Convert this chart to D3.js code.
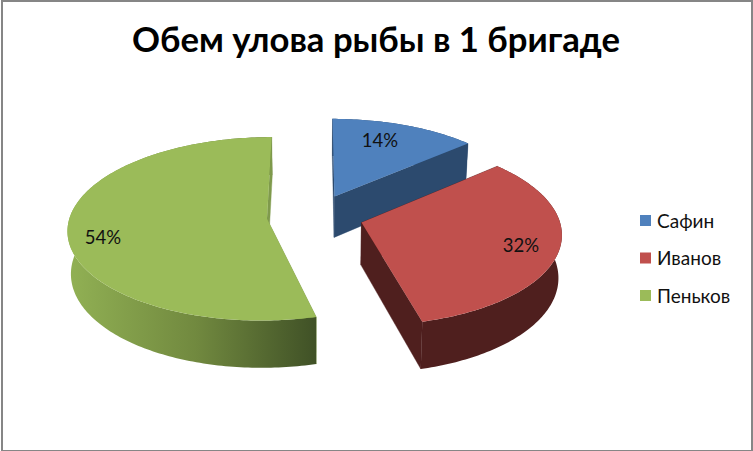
<!DOCTYPE html>
<html><head><meta charset="utf-8">
<script src="https://cdn.jsdelivr.net/npm/d3@7/dist/d3.min.js"></script>
<style>html,body{margin:0;padding:0;background:#fff}svg{display:block}</style>
</head><body><svg id="c" width="753" height="451"></svg>
<script>
const titleText = "Обем улова рыбы в 1 бригаде";
const categories = ["Сафин", "Иванов", "Пеньков"];
const values = [13.51, 32.49, 54];
const topColors = ["#4f81bd", "#c0504d", "#9bbb59"];
const sideColors = ["#2c4a6e", "#4f1f1e", "#7f9a4c"];

const font = "Lato, Carlito, 'Open Sans', sans-serif";
const svg = d3.select("#c");
const W = 753, H = 451;
svg.append("rect").attr("x",2).attr("y",1).attr("width",750).attr("height",450).attr("fill","#fff").attr("stroke","#868686").attr("stroke-width",2);

const defs = svg.append("defs");
const g1 = defs.append("linearGradient").attr("id","greenRim").attr("gradientUnits","userSpaceOnUse")
  .attr("x1",74).attr("x2",318).attr("y1",0).attr("y2",0);
g1.append("stop").attr("offset",0).attr("stop-color","#90af53");
g1.append("stop").attr("offset",.5).attr("stop-color","#71893f");
g1.append("stop").attr("offset",1).attr("stop-color","#3f5026");

// perspective projection of the pie plane
const cx = 315, cy = 216, A = 197, B = 90, k = 0.109, depth = 42, taper = 0.014, explode = 0.245;
function proj(X, Y, bottom) {
  const w = 1 + k * Y;
  let sx = A * X / w, sy = -B * Y / w;
  if (bottom) { sy += depth / w; sx *= (1 - taper); }
  return [cx + sx, cy + sy];
}
const pie = d3.pie().sort(null)(values);
const line = d3.line();
const slices = pie.map((d, i) => {
  const mid = (d.startAngle + d.endAngle) / 2;
  const ox = explode * Math.sin(mid), oy = explode * Math.cos(mid);
  const angles = d3.range(d.startAngle, d.endAngle, Math.PI / 180).concat([d.endAngle]);
  const rim = angles.map(a => [ox + Math.sin(a), oy + Math.cos(a), a]);
  return { i, ox, oy, mid, rim, d };
});

function drawSlice(s) {
  const g = svg.append("g");
  const apexT = proj(s.ox, s.oy, false), apexB = proj(s.ox, s.oy, true);
  const first = s.rim[0], last = s.rim[s.rim.length - 1];
  const face = (p, col) => g.append("path").attr("fill", col).attr("stroke", col).attr("stroke-width", .4)
    .attr("d", line([apexT, proj(p[0], p[1], false), proj(p[0], p[1], true), apexB]) + "Z");
  face(first, sideColors[s.i]);
  // outer wall
  const wall = s.rim.map(p => proj(p[0], p[1], false)).concat(s.rim.slice().reverse().map(p => proj(p[0], p[1], true)));
  g.append("path").attr("d", line(wall) + "Z")
    .attr("fill", s.i === 2 ? "url(#greenRim)" : sideColors[s.i]);
  face(last, sideColors[s.i]);
  // top
  const top = [apexT].concat(s.rim.map(p => proj(p[0], p[1], false)));
  g.append("path").attr("d", line(top) + "Z").attr("fill", topColors[s.i]);
}
[0, 2, 1].forEach(i => drawSlice(slices[i]));

// percent labels
const labelPos = [[380, 141], [521, 246], [103, 238]];
const total = d3.sum(values);
categories.forEach((c, i) => {
  svg.append("text").attr("x", labelPos[i][0]).attr("y", labelPos[i][1]).attr("dy", ".35em")
    .attr("text-anchor", "middle").attr("font-family", font).attr("font-size", 18.5).attr("fill", "#111")
    .text(d3.format(".0%")(values[i] / total));
});

// title
svg.append("text").attr("x", 376).attr("y", 52).attr("text-anchor", "middle")
  .attr("font-family", font).attr("font-weight", 700).attr("font-size", 34.7).attr("fill", "#000").text(titleText);

// legend
const legY = d3.scalePoint().domain(categories).range([221, 296]);
categories.forEach((c, i) => {
  svg.append("rect").attr("x", 640).attr("y", legY(c) - 6).attr("width", 11).attr("height", 11).attr("fill", topColors[i]);
  svg.append("text").attr("x", 657).attr("y", legY(c)).attr("dy", ".35em").attr("font-family", font)
    .attr("font-size", 19).attr("fill", "#111").text(c);
});
</script></body></html>
